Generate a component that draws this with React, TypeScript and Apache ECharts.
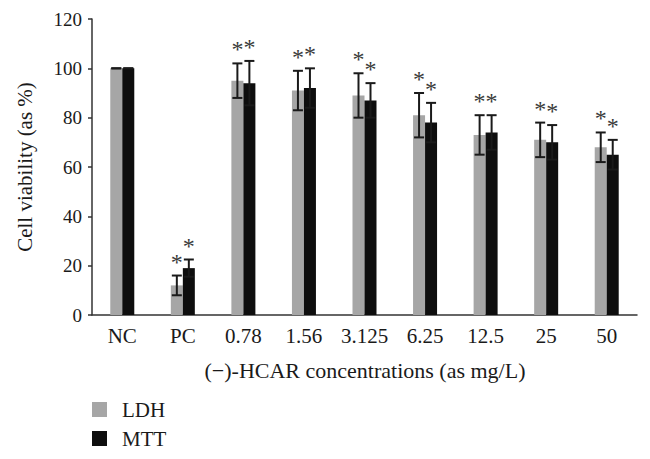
import React, { useEffect, useRef } from "react";
import * as echarts from "echarts";

const categories = ["NC", "PC", "0.78", "1.56", "3.125", "6.25", "12.5", "25", "50"];
const ldhValues = [100, 12, 95, 91, 89, 81, 73, 71, 68];
const mttValues = [100, 19, 94, 92, 87, 78, 74, 70, 65];
const ldhLow = [100, 8, 88, 83, 80, 72, 65, 64, 62];
const ldhHigh = [100, 16, 102, 99, 98, 90, 81, 78, 74];
const mttLow = [100, 15.5, 85, 84, 80, 70, 67, 63, 59];
const mttHigh = [100, 22.5, 103, 100, 94, 86, 81, 77, 71];
const ldhSignificant = [false, true, true, true, true, true, true, true, true];
const mttSignificant = [false, true, true, true, true, true, true, true, true];
const yMin = 0;
const yMax = 120;
const yStep = 20;

const FONT = "Liberation Serif";
const BAR_W = 12;

function errorSeries(name: string, low: number[], high: number[], sig: boolean[], offset: number) {
  return {
    type: "custom",
    name,
    z: 10,
    silent: true,
    data: categories.map((_, i) => [i, low[i], high[i], sig[i] ? 1 : 0]),
    encode: { x: 0, y: [1, 2] },
    renderItem: (params: any, api: any) => {
      const idx = api.value(0);
      const lo = api.value(1);
      const hi = api.value(2);
      const s = api.value(3);
      const top = api.coord([idx, hi]);
      const bot = api.coord([idx, lo]);
      const x = top[0] + offset;
      const style = { stroke: "#1a1a1a", lineWidth: 2 };
      const children: any[] = [
        { type: "line", shape: { x1: x, y1: top[1], x2: x, y2: bot[1] }, style },
        { type: "line", shape: { x1: x - 5, y1: top[1], x2: x + 5, y2: top[1] }, style },
        { type: "line", shape: { x1: x - 5, y1: bot[1], x2: x + 5, y2: bot[1] }, style },
      ];
      if (s) {
        children.push({
          type: "text",
          x: x,
          y: top[1] - 14,
          style: {
            text: "*",
            fill: "#3a3a3a",
            fontFamily: FONT,
            fontSize: 24,
            align: "center",
            verticalAlign: "middle",
          },
        });
      }
      return { type: "group", children };
    },
  };
}

export default function App() {
  const ref = useRef<HTMLDivElement>(null);
  useEffect(() => {
    if (!ref.current) return;
    const chart = echarts.init(ref.current, undefined, { renderer: "svg" });
    chart.setOption({
      animation: false,
      backgroundColor: "#ffffff",
      textStyle: { fontFamily: FONT },
      grid: { left: 92, right: 13, top: 19, bottom: 144, containLabel: false },
      legend: {
        data: ["LDH", "MTT"],
        orient: "vertical",
        left: 92,
        top: 399,
        padding: 0,
        icon: "rect",
        itemWidth: 15,
        itemHeight: 15,
        itemGap: 8,
        textStyle: {
          fontFamily: FONT,
          fontSize: 21,
          lineHeight: 20,
          color: "#1a1a1a",
          padding: [0, 0, 0, 10],
        },
      },
      graphic: [
        {
          type: "text",
          x: 25,
          y: 167,
          rotation: Math.PI / 2,
          style: {
            text: "Cell viability (as %)",
            fontFamily: FONT,
            fontSize: 21,
            fill: "#1a1a1a",
            align: "center",
            verticalAlign: "middle",
          },
        },
        {
          type: "text",
          x: 365,
          y: 370,
          style: {
            text: "(\u2212)-HCAR concentrations (as mg/L)",
            fontFamily: FONT,
            fontSize: 22,
            fill: "#1a1a1a",
            align: "center",
            verticalAlign: "middle",
          },
        },
      ],
      xAxis: {
        type: "category",
        data: categories,
        axisTick: { show: false },
        axisLine: { lineStyle: { color: "#333", width: 1.5 } },
        axisLabel: {
          interval: 0,
          hideOverlap: false,
          fontFamily: FONT,
          fontSize: 21,
          color: "#1a1a1a",
          margin: 10,
        },
      },
      yAxis: {
        type: "value",
        min: yMin,
        max: yMax,
        interval: yStep,
        splitLine: { show: false },
        axisLine: { show: true, lineStyle: { color: "#333", width: 1.5 } },
        axisTick: { show: true, length: 4, lineStyle: { color: "#333", width: 1.5 } },
        axisLabel: { fontFamily: FONT, fontSize: 19, color: "#1a1a1a", margin: 10 },
      },
      series: [
        {
          type: "bar",
          name: "LDH",
          data: ldhValues,
          barWidth: BAR_W,
          barGap: "0%",
          itemStyle: { color: "#a6a6a6" },
        },
        {
          type: "bar",
          name: "MTT",
          data: mttValues,
          barWidth: BAR_W,
          barGap: "0%",
          itemStyle: { color: "#0e0e0e" },
        },
        errorSeries("LDH err", ldhLow, ldhHigh, ldhSignificant, -BAR_W / 2),
        errorSeries("MTT err", mttLow, mttHigh, mttSignificant, BAR_W / 2),
      ],
    });
    return () => chart.dispose();
  }, []);
  return (
    <div
      ref={ref}
      style={{ position: "absolute", left: 0, top: 0, width: 650, height: 459 }}
    />
  );
}
